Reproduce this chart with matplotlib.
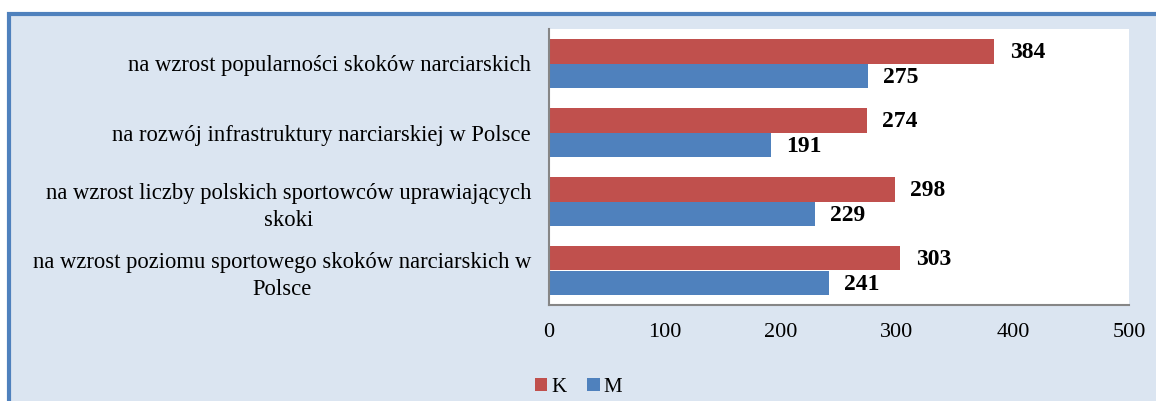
import matplotlib
matplotlib.use("Agg")
import matplotlib.pyplot as plt
from matplotlib.patches import Rectangle, Patch
import numpy as np

categories = [
    "na wzrost popularności skoków narciarskich",
    "na rozwój infrastruktury narciarskiej w Polsce",
    "na wzrost liczby polskich sportowców uprawiających\nskoki",
    "na wzrost poziomu sportowego skoków narciarskich w\nPolsce",
]
K_values = [384, 274, 298, 303]
M_values = [275, 191, 229, 241]
xticks = [0, 100, 200, 300, 400, 500]

plt.rcParams['font.family'] = ['Liberation Serif', 'DejaVu Serif']

W, H = 1156, 401
fig = plt.figure(figsize=(W / 100, H / 100), dpi=100)
fig.patch.set_facecolor('white')

bg = '#dbe5f1'
border = Rectangle((9 / W, -0.2), 1.2, 1 - 14 / H + 0.2, transform=fig.transFigure,
                   facecolor=bg, edgecolor='#4f81bd', linewidth=3, zorder=-5)
fig.patches.append(border)

ax = fig.add_axes([549 / W, 1 - 305 / H, (1129 - 549) / W, (305 - 29) / H])
ax.set_zorder(2)
ax.set_facecolor('white')

red = '#c0504d'
blue = '#4f81bd'
y = np.arange(len(categories))
h = 0.36
bk = ax.barh(y - h / 2, K_values, height=h, color=red, label='K')
bm = ax.barh(y + h / 2, M_values, height=h, color=blue, label='M')

for bars, vals in ((bk, K_values), (bm, M_values)):
    for b, v in zip(bars, vals):
        ax.annotate(str(v), (v, b.get_y() + b.get_height() / 2), xytext=(11, -1),
                    textcoords='offset points', ha='left', va='center',
                    fontsize=17, fontweight='bold')

ax.set_xlim(0, 500)
ax.set_ylim(len(categories) - 0.5, -0.5)
ax.set_xticks(xticks)
ax.set_xticklabels([str(t) for t in xticks], fontsize=16)
ax.set_yticks(y)
ax.set_yticklabels(categories, fontsize=16.3, multialignment='center', linespacing=1.4)
ax.tick_params(axis='both', length=0)
ax.tick_params(axis='x', pad=13.3)
ax.tick_params(axis='y', pad=13)
for s in ('top', 'right'):
    ax.spines[s].set_visible(False)
for s in ('left', 'bottom'):
    ax.spines[s].set_color('#868686')
    ax.spines[s].set_linewidth(1.5)

handles = [Patch(facecolor=red, label='K'), Patch(facecolor=blue, label='M')]
fig.legend(handles=handles, loc='center', bbox_to_anchor=(578.5 / W, 1 - 387 / H),
           ncol=2, frameon=False, fontsize=15, handlelength=0.6, handleheight=0.6,
           handletextpad=0.2, columnspacing=1.0)

fig.savefig('out.png', dpi=100, facecolor=fig.get_facecolor())
